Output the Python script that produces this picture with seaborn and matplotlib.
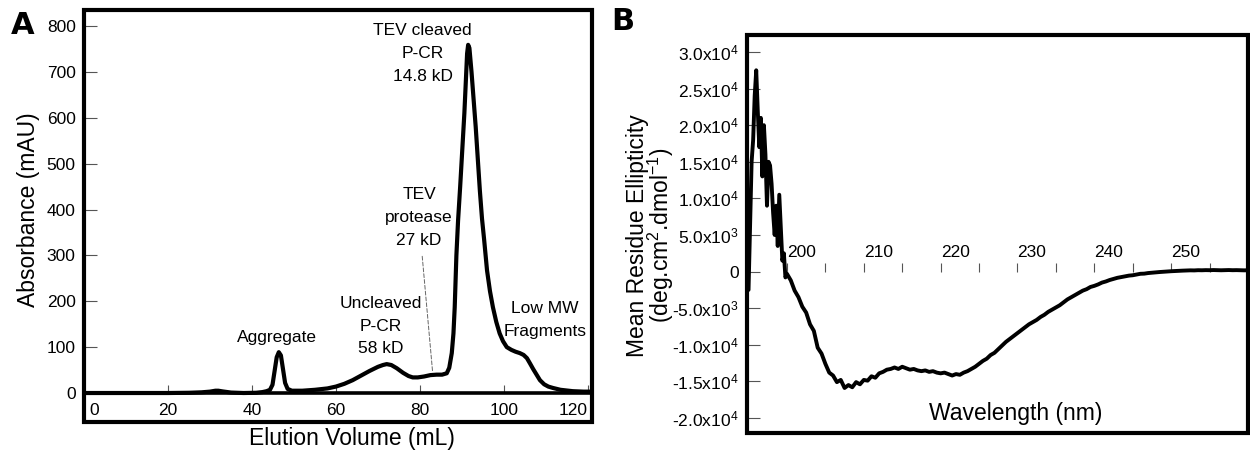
import numpy as np
import pandas as pd
import matplotlib
matplotlib.use("Agg")
import matplotlib.pyplot as plt
import seaborn as sns
from matplotlib import font_manager as fm
from matplotlib.patches import Rectangle
from matplotlib.transforms import ScaledTranslation

# ---------------- Panel A: size-exclusion chromatogram ----------------
elution_ml = [0, 10, 20, 25, 28, 30, 31.3, 32, 33, 35, 38, 41, 42.5, 43.5, 44.3, 44.9,
              45.4, 45.9, 46.4, 46.9, 47.4, 47.9, 48.5, 49.5, 52, 55, 58, 60, 62, 64,
              66, 68, 70, 71.2, 72.1, 73.2, 74.5, 76, 77.3, 78.3, 79.5, 81, 82.5, 84,
              85.3, 86.4, 87.0, 87.6, 88.0, 88.3, 88.7, 89.1, 89.6, 90.1, 90.6, 91.0,
              91.25, 91.5, 91.8, 92.3, 92.8, 93.3, 93.8, 94.3, 94.8, 95.3, 96.0, 96.7,
              97.4, 98.2, 99.0, 99.8, 100.7, 101.8, 102.8, 103.8, 104.7, 105.5, 106.2,
              107.0, 107.8, 108.6, 109.6, 110.6, 111.7, 113.5, 116.4, 119, 121]
absorbance_mau = [0, 0, 0, 0.5, 1.5, 3, 5, 5, 3.5, 1, 0, 0.5, 2, 4, 7, 18,
                  48, 78, 89, 82, 52, 22, 9, 5, 5, 7, 10, 14, 20, 28,
                  38, 48, 57, 61, 63, 61, 54, 44, 37, 34, 34, 36, 39, 40,
                  40, 43, 55, 87, 130, 187, 300, 376, 450, 530, 610, 690,
                  740, 759, 752, 700, 640, 580, 510, 440, 380, 335, 267, 222,
                  187, 155, 130, 113, 100, 94, 90, 87, 83, 76, 65,
                  52, 40, 28, 19, 14, 11, 7, 4, 3, 3]

a_xticks = [0, 20, 40, 60, 80, 100, 120]
a_xticklabels = ["0", "20", "40", "60", "80", "100", "120"]
a_yticks = [0, 100, 200, 300, 400, 500, 600, 700, 800]
a_yticklabels = ["0", "100", "200", "300", "400", "500", "600", "700", "800"]

a_notes = ["TEV cleaved\nP-CR\n14.8 kD", "TEV\nprotease\n27 kD",
           "Uncleaved\nP-CR\n58 kD", "Aggregate", "Low MW\nFragments"]
a_note_x = [80.7, 79.8, 70.7, 46.0, 109.8]
a_note_y = [740, 383, 146, 120, 160]
leader_from = (80.5, 304)
leader_to = (83.1, 39)

# ---------------- Panel B: CD spectrum ----------------
wavelength_nm = [195.0, 195.2, 195.4, 195.6, 195.8, 196.0, 196.2, 196.4, 196.6, 196.8,
                 197.0, 197.2, 197.4, 197.6, 197.8, 198.0, 198.2, 198.4, 198.6, 198.8,
                 199.0, 199.2, 199.4, 199.6, 199.8,
                 200.0, 200.5, 201.0, 201.5, 202.0, 202.5, 203.0, 203.5, 204.0, 204.5,
                 205.0, 205.5, 206.0, 206.5, 207.0, 207.5, 208.0, 208.5, 209.0, 209.5,
                 210.0, 210.5, 211.0, 211.5, 212.0, 212.5, 213.0, 213.5, 214.0, 214.5,
                 215.0, 215.5, 216.0, 216.5, 217.0, 217.5, 218.0, 218.5, 219.0, 219.5,
                 220.0, 220.5, 221.0, 221.5, 222.0, 222.5, 223.0, 223.5, 224.0, 224.5,
                 225.0, 225.5, 226.0, 226.5, 227.0, 227.5, 228.0, 228.5, 229.0, 229.5,
                 230.0, 230.5, 231.0, 231.5, 232.0, 232.5, 233.0, 233.5, 234.0, 234.5,
                 235.0, 235.5, 236.0, 236.5, 237.0, 237.5, 238.0, 238.5, 239.0, 239.5,
                 240.0, 240.5, 241.0, 241.5, 242.0, 242.5, 243.0, 243.5, 244.0, 244.5,
                 245.0, 245.5, 246.0, 246.5, 247.0, 247.5, 248.0, 248.5, 249.0, 249.5,
                 250.0, 250.5, 251.0, 251.5, 252.0, 252.5, 253.0, 253.5, 254.0, 254.5,
                 255.0, 255.5, 256.0, 256.5, 257.0, 257.5, 258.0, 258.5, 259.0, 259.5,
                 260.0]
ellipticity = [-2500, 6000, 15000, 18000, 24000, 27500, 22000, 17000, 21000, 13000,
               20000, 16000, 9000, 15000, 14500, 12000, 8000, 5000, 9000, 3500,
               10500, 6000, 1500, 2500, -800,
               -300, -1200, -2600, -3500, -4800, -5600, -7200, -8100, -10400, -11200,
               -12600, -13800, -14200, -15100, -14800, -15900, -15500, -15800, -15100, -15400,
               -14800, -14900, -14300, -14500, -13900, -13700, -13400, -13300, -13100, -13300,
               -13000, -13200, -13400, -13300, -13500, -13600, -13500, -13700, -13600, -13800,
               -13900, -13800, -14000, -14200, -14000, -14100, -13800, -13600, -13300, -13000,
               -12600, -12200, -11900, -11400, -11100, -10600, -10100, -9600, -9200, -8800,
               -8400, -8000, -7600, -7200, -6900, -6600, -6200, -5900, -5500, -5200,
               -4900, -4600, -4200, -3800, -3500, -3200, -2900, -2600, -2400, -2100,
               -1950, -1750, -1500, -1350, -1150, -1000, -850, -750, -650, -550,
               -500, -400, -300, -280, -200, -150, -100, -60, -20, 20,
               50, 80, 100, 130, 150, 170, 160, 190, 180, 200,
               190, 210, 200, 180, 200, 210, 190, 200, 180, 170,
               180]

b_xticks = [200, 205, 210, 215, 220, 225, 230, 235, 240, 245, 250, 255, 260]
b_xticklabels = ["200", "", "210", "", "220", "", "230", "", "240", "", "250", "", ""]
b_yticks = [-20000, -15000, -10000, -5000, 0, 5000, 10000, 15000, 20000, 25000, 30000]
b_yticklabels = ["-2.0x10$^4$", "-1.5x10$^4$", "-1.0x10$^4$", "-5.0x10$^3$", "0",
                 "5.0x10$^3$", "1.0x10$^4$", "1.5x10$^4$", "2.0x10$^4$", "2.5x10$^4$",
                 "3.0x10$^4$"]

# ---------------- style ----------------
sns.set_theme(style="white")
names = {f.name for f in fm.fontManager.ttflist}
base = "Liberation Sans Narrow" if "Liberation Sans Narrow" in names else "Liberation Sans"
plt.rcParams["font.family"] = [base, "DejaVu Sans"]
plt.rcParams["mathtext.fontset"] = "custom"
plt.rcParams["mathtext.rm"] = base
plt.rcParams["mathtext.it"] = base
plt.rcParams["mathtext.bf"] = base
plt.rcParams["mathtext.sf"] = base
for k in ["text.color", "axes.labelcolor", "xtick.labelcolor", "ytick.labelcolor"]:
    plt.rcParams[k] = "black"

TICK_FS = 12.5
NOTE_FS = 12.5
LABEL_FS = 16.5

fig = plt.figure(figsize=(12.5, 4.55), dpi=100)
axA = fig.add_axes([84 / 1250, 33 / 455, 508 / 1250, 412 / 455])
axB = fig.add_axes([747 / 1250, 22 / 455, 501 / 1250, 398 / 455])

dfA = pd.DataFrame({"Elution Volume (mL)": elution_ml, "Absorbance (mAU)": absorbance_mau})
sns.lineplot(data=dfA, x="Elution Volume (mL)", y="Absorbance (mAU)", ax=axA,
             color="black", lw=3.0, sort=False)
axA.set_xlim(0, 121)
axA.set_ylim(-63.2, 834.9)
for s in ["left", "right", "top"]:
    axA.spines[s].set_visible(False)
axA.spines["bottom"].set_position(("data", 0))
axA.spines["bottom"].set_linewidth(2.6)
axA.spines["bottom"].set_color("black")
axA.add_patch(Rectangle((0, 0), 1, 1, transform=axA.transAxes, fill=False,
                        lw=3.0, ec="black", clip_on=False, zorder=5))
axA.set_xticks(a_xticks)
axA.set_xticklabels(a_xticklabels)
axA.set_yticks(a_yticks)
axA.set_yticklabels(a_yticklabels)
axA.tick_params(axis="x", direction="in", length=6, width=0.8, color="#555555",
                pad=7, labelsize=TICK_FS, bottom=True)
axA.tick_params(axis="y", direction="in", length=9, width=0.8, color="#555555",
                pad=6, labelsize=TICK_FS, left=True)
xl = axA.get_xticklabels()
xl[0].set_ha("left")
xl[0].set_transform(xl[0].get_transform() + ScaledTranslation(4 / 72, 0, fig.dpi_scale_trans))
xl[-1].set_ha("right")
axA.set_xlabel("Elution Volume (mL)", fontsize=LABEL_FS)
axA.xaxis.set_label_coords(0.528, -0.039)
axA.xaxis.label.set_va("center")
axA.set_ylabel("Absorbance (mAU)", fontsize=LABEL_FS)
axA.yaxis.set_label_coords(-0.110, 0.515)
axA.yaxis.label.set_va("center")

for t, x, y in zip(a_notes, a_note_x, a_note_y):
    axA.text(x, y, t, ha="center", va="center", fontsize=NOTE_FS, linespacing=1.65)
axA.annotate("", xy=leader_to, xytext=leader_from,
             arrowprops=dict(arrowstyle="-", ls=(0, (4, 2)), lw=0.7, color="#666666"))

dfB = pd.DataFrame({"Wavelength (nm)": wavelength_nm, "MRE": ellipticity})
sns.lineplot(data=dfB, x="Wavelength (nm)", y="MRE", ax=axB, color="black",
             lw=2.8, sort=False)
axB.set_xlim(194.8, 259.5)
axB.set_ylim(-22050, 32320)
for s in ["left", "right", "bottom", "top"]:
    axB.spines[s].set_visible(False)
axB.spines["top"].set_position(("data", 0))
axB.xaxis.set_ticks_position("top")
axB.add_patch(Rectangle((0, 0), 1, 1, transform=axB.transAxes, fill=False,
                        lw=3.0, ec="black", clip_on=False, zorder=5))
axB.set_xticks(b_xticks)
axB.set_xticklabels(b_xticklabels)
axB.set_yticks(b_yticks)
axB.set_yticklabels(b_yticklabels)
axB.tick_params(axis="x", direction="out", length=6.5, width=0.8, color="#555555",
                pad=2, labelsize=TICK_FS, top=True, bottom=False)
for lab in axB.get_xticklabels():
    lab.set_ha("left")
axB.tick_params(axis="y", direction="in", length=9.5, width=0.8, color="#555555",
                pad=6, labelsize=TICK_FS, left=True)
axB.set_xlabel("Wavelength (nm)", fontsize=LABEL_FS)
axB.xaxis.set_label_coords(0.537, 0.050)
axB.xaxis.label.set_va("center")
axB.set_ylabel("Mean Residue Ellipticity\n(deg.cm$^2$.dmol$^{-1}$)", fontsize=LABEL_FS,
               linespacing=0.88)
axB.yaxis.set_label_coords(-0.1916, 0.497)
axB.yaxis.label.set_va("center")

fig.text(23 / 1250, 1 - 25 / 455, "A", fontsize=22, fontweight="heavy",
         family="DejaVu Sans", ha="center", va="center")
fig.text(623 / 1250, 1 - 22 / 455, "B", fontsize=22, fontweight="heavy",
         family="DejaVu Sans", ha="center", va="center")

fig.savefig("out.png", dpi=100)
